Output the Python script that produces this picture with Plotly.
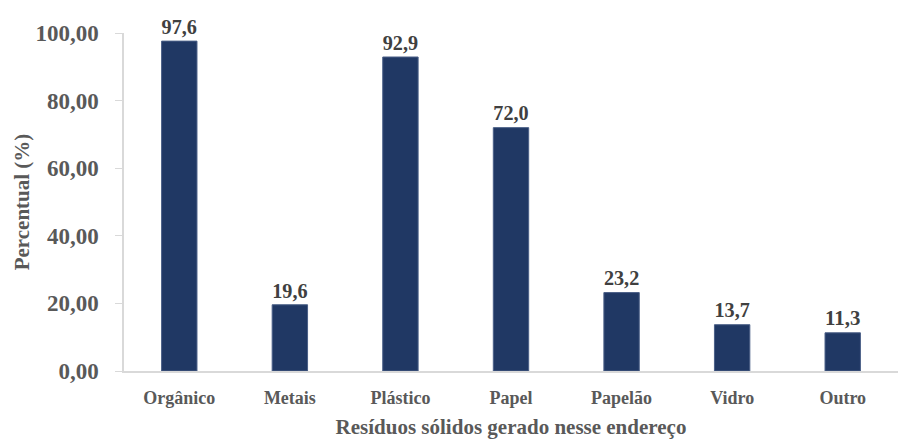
import plotly.graph_objects as go

categories = ["Orgânico", "Metais", "Plástico", "Papel", "Papelão", "Vidro", "Outro"]
values = [97.6, 19.6, 92.9, 72.0, 23.2, 13.7, 11.3]
y_ticks = [0, 20, 40, 60, 80, 100]
y_tick_labels = ["0,00", "20,00", "40,00", "60,00", "80,00", "100,00"]
value_labels = [f"{v:.1f}".replace(".", ",") for v in values]

font_family = "Liberation Serif, Times New Roman, serif"

fig = go.Figure(go.Bar(
    x=categories, y=values,
    marker=dict(color="#203864", line=dict(color="#4a5f87", width=1)),
    width=0.32,
    text=value_labels, textposition="outside", cliponaxis=False,
    textfont=dict(family=font_family, size=24, color="#404040", weight="bold"),
    hoverinfo="skip",
))

fig.update_layout(
    width=903, height=439,
    margin=dict(l=124, r=5, t=33, b=68, autoexpand=False),
    plot_bgcolor="white", paper_bgcolor="white",
    showlegend=False,
    font=dict(family=font_family),
    xaxis=dict(
        showline=True, linecolor="#d9d9d9", linewidth=1.5,
        tickfont=dict(family=font_family, size=18, color="#595959", weight="bold"),
        ticks="", showgrid=False, automargin=False,
        ticklabelstandoff=10,
        title=dict(text="<b>Resíduos sólidos gerado nesse endereço</b>",
                   font=dict(family=font_family, size=21, color="#595959"), standoff=14),
    ),
    yaxis=dict(
        range=[0, 100], tickvals=y_ticks, ticktext=y_tick_labels,
        showline=True, linecolor="#d9d9d9", linewidth=1.5,
        ticks="outside", tickcolor="#d9d9d9", ticklen=7, tickwidth=1,
        ticklabelstandoff=12,
        showgrid=False, zeroline=False, automargin=False,
        tickfont=dict(family=font_family, size=23, color="#595959", weight="bold"),
        title=dict(text="<b>Percentual (%)</b>",
                   font=dict(family=font_family, size=21, color="#595959"), standoff=0),
    ),
    bargap=0.68,
)

fig.write_html("out.html", config={"displayModeBar": False},
               post_script="document.body.style.margin='0';")
